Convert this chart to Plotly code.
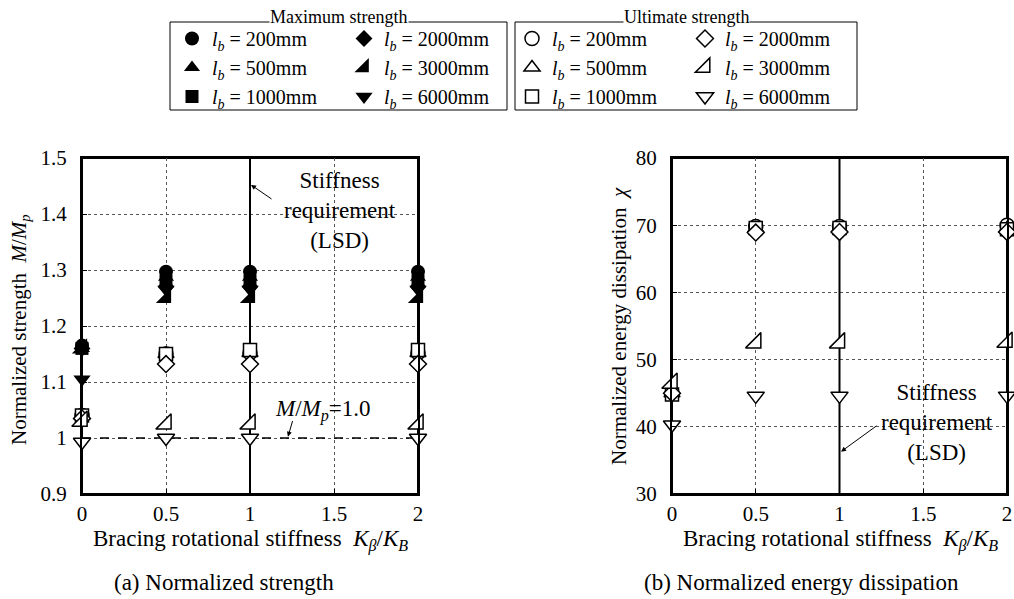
import plotly.graph_objects as go

# ---------------- data ----------------
stiffness = [0, 0.5, 1, 2]          # K_beta / K_B
lengths = [200, 500, 1000, 2000, 3000, 6000]   # l_b (mm)

# Normalized strength M/Mp at maximum strength (filled markers)
max_str_200 = [1.165, 1.297, 1.297, 1.297]
max_str_500 = [1.160, 1.287, 1.287, 1.287]
max_str_1000 = [1.160, 1.280, 1.280, 1.280]
max_str_2000 = [1.160, 1.270, 1.270, 1.270]
max_str_3000 = [1.160, 1.250, 1.250, 1.250]
max_str_6000 = [1.105, 1.265, 1.265, 1.265]

# Normalized strength M/Mp at ultimate strength (open markers)
ult_str_200 = [1.040, 1.150, 1.152, 1.152]
ult_str_500 = [1.040, 1.150, 1.152, 1.152]
ult_str_1000 = [1.040, 1.150, 1.157, 1.157]
ult_str_2000 = [1.035, 1.132, 1.132, 1.132]
ult_str_3000 = [1.030, 1.025, 1.025, 1.025]
ult_str_6000 = [0.993, 1.000, 1.000, 1.000]

# Normalized energy dissipation chi (ultimate strength, open markers)
ult_chi_200 = [45.0, 69.8, 69.8, 70.0]
ult_chi_500 = [45.0, 69.5, 69.5, 69.5]
ult_chi_1000 = [44.8, 69.6, 69.6, 69.4]
ult_chi_2000 = [45.0, 68.9, 69.0, 69.0]
ult_chi_3000 = [46.5, 52.5, 52.5, 52.6]
ult_chi_6000 = [40.3, 44.6, 44.6, 44.6]

x_range = [0, 2]
str_range = [0.9, 1.5]
chi_range = [30, 80]
lsd_requirement = 1.0   # K_beta/K_B stiffness requirement (LSD)
mp_ratio = 1.0          # M/Mp = 1.0 reference

max_str = [max_str_200, max_str_500, max_str_1000, max_str_2000, max_str_3000, max_str_6000]
ult_str = [ult_str_200, ult_str_500, ult_str_1000, ult_str_2000, ult_str_3000, ult_str_6000]
ult_chi = [ult_chi_200, ult_chi_500, ult_chi_1000, ult_chi_2000, ult_chi_3000, ult_chi_6000]

# ---------------- styles ----------------
FONT = "Liberation Serif"
W, H = 1014, 599
symbols = ["circle", "triangle-up", "square", "diamond", "triangle-se", "triangle-down"]
sizes = [14, 14, 13, 13, 17, 15]
leg_max = ["legend", "legend", "legend", "legend2", "legend2", "legend2"]
leg_ult = ["legend3", "legend3", "legend3", "legend4", "legend4", "legend4"]


def px(xp):
    return xp / W


def py(yp):
    return 1 - yp / H


def lab(l):
    return f"<i>l</i><sub><i>b</i></sub> = {l}mm"


fig = go.Figure()

# reference lines (drawn first, under the markers)
fig.add_trace(go.Scatter(x=[lsd_requirement, lsd_requirement], y=str_range, mode="lines",
                         line=dict(color="black", width=2), showlegend=False, hoverinfo="skip",
                         cliponaxis=False, xaxis="x", yaxis="y"))
fig.add_trace(go.Scatter(x=x_range, y=[mp_ratio, mp_ratio], mode="lines",
                         line=dict(color="black", width=1.5, dash="dash"), showlegend=False,
                         hoverinfo="skip", cliponaxis=False, xaxis="x", yaxis="y"))
fig.add_trace(go.Scatter(x=[lsd_requirement, lsd_requirement], y=chi_range, mode="lines",
                         line=dict(color="black", width=2), showlegend=False, hoverinfo="skip",
                         cliponaxis=False, xaxis="x2", yaxis="y2"))

for i, l in enumerate(lengths):
    fig.add_trace(go.Scatter(
        x=stiffness, y=max_str[i], mode="markers", name=lab(l),
        marker=dict(symbol=symbols[i], size=sizes[i], color="black",
                    line=dict(width=0, color="black")),
        cliponaxis=False, xaxis="x", yaxis="y", legend=leg_max[i]))
for i, l in enumerate(lengths):
    fig.add_trace(go.Scatter(
        x=stiffness, y=ult_str[i], mode="markers", name=lab(l),
        marker=dict(symbol=symbols[i], size=sizes[i], color="white",
                    line=dict(width=1.5, color="black")),
        cliponaxis=False, xaxis="x", yaxis="y", legend=leg_ult[i]))
for i, l in enumerate(lengths):
    fig.add_trace(go.Scatter(
        x=stiffness, y=ult_chi[i], mode="markers", name=lab(l), showlegend=False,
        marker=dict(symbol=symbols[i], size=sizes[i], color="white",
                    line=dict(width=1.5, color="black")),
        cliponaxis=False, xaxis="x2", yaxis="y2"))

axis_common = dict(
    showline=True, linecolor="black", linewidth=2, mirror=True,
    ticks="inside", ticklen=5, tickcolor="black", tickwidth=1,
    showgrid=True, gridcolor="#555555", gridwidth=1, griddash="dot",
    zeroline=False, automargin=False,
    tickfont=dict(family=FONT, size=21, color="black"),
)

fig.update_layout(
    width=W, height=H,
    margin=dict(l=0, r=0, t=0, b=0, pad=0),
    paper_bgcolor="white", plot_bgcolor="white",
    font=dict(family=FONT, size=21, color="black"),
    xaxis=dict(domain=[px(82), px(418)], range=x_range, tickvals=[0, 0.5, 1, 1.5, 2],
               anchor="y", ticklabelstandoff=0, **axis_common),
    yaxis=dict(domain=[py(494), py(158)], range=str_range, dtick=0.1, tick0=0.9,
               anchor="x", ticklabelstandoff=9, **axis_common),
    xaxis2=dict(domain=[px(672), px(1007)], range=x_range, tickvals=[0, 0.5, 1, 1.5, 2],
                anchor="y2", ticklabelstandoff=0, **axis_common),
    yaxis2=dict(domain=[py(494), py(158)], range=chi_range, dtick=10,
                anchor="x2", ticklabelstandoff=9, **axis_common),
)

# plot frames
for xr, yr in [("x", "y"), ("x2", "y2")]:
    fig.add_shape(type="rect", xref=f"{xr} domain", yref=f"{yr} domain",
                  x0=0, x1=1, y0=0, y1=1, line=dict(color="black", width=2), layer="below")

# legends
leg_common = dict(bgcolor="rgba(0,0,0,0)", borderwidth=0, orientation="v",
                  font=dict(family=FONT, size=20, color="black"),
                  xanchor="left", yanchor="top", itemsizing="trace", tracegroupgap=0)
leg_top = 19
fig.update_layout(
    legend=dict(x=px(172), y=py(leg_top), **leg_common),
    legend2=dict(x=px(344), y=py(leg_top), **leg_common),
    legend3=dict(x=px(512), y=py(leg_top), **leg_common),
    legend4=dict(x=px(685), y=py(leg_top), **leg_common),
)

# legend boxes
for (x0, x1) in [(170, 507), (515, 857)]:
    fig.add_shape(type="rect", xref="paper", yref="paper",
                  x0=px(x0), x1=px(x1), y0=py(110), y1=py(22),
                  line=dict(color="black", width=1))
for text, xc in [("Maximum strength", 338.5), ("Ultimate strength", 686)]:
    fig.add_annotation(text=text, xref="paper", yref="paper", x=px(xc), y=py(17),
                       showarrow=False, bgcolor="white", font=dict(family=FONT, size=18),
                       xanchor="center", yanchor="middle", borderpad=0)

ann_font = dict(family=FONT, size=23, color="black")
xt_font = dict(family=FONT, size=23, color="black")
yt_font = dict(family=FONT, size=21, color="black")
xt = "Bracing rotational stiffness  <i>K</i><sub><i>β</i></sub>/<i>K</i><sub><i>B</i></sub>"
fig.add_annotation(text=xt, xref="paper", yref="paper", x=px(250), y=py(540), showarrow=False,
                   font=xt_font, xanchor="center", yanchor="middle")
fig.add_annotation(text=xt, xref="paper", yref="paper", x=px(840), y=py(540), showarrow=False,
                   font=xt_font, xanchor="center", yanchor="middle")
fig.add_annotation(text="Normalized strength  <i>M</i>/<i>M</i><sub><i>p</i></sub>",
                   xref="paper", yref="paper", x=px(20), y=py(330), showarrow=False,
                   font=yt_font, textangle=-90, xanchor="center", yanchor="middle")
fig.add_annotation(text="Normalized energy dissipation  <i>χ</i>",
                   xref="paper", yref="paper", x=px(619), y=py(326), showarrow=False,
                   font=yt_font, textangle=-90, xanchor="center", yanchor="middle")
fig.add_annotation(text="(a) Normalized strength", xref="paper", yref="paper",
                   x=px(224), y=py(582), showarrow=False, font=ann_font,
                   xanchor="center", yanchor="middle")
fig.add_annotation(text="(b) Normalized energy dissipation", xref="paper", yref="paper",
                   x=px(801), y=py(582), showarrow=False, font=ann_font,
                   xanchor="center", yanchor="middle")

fig.add_annotation(text="Stiffness<br>requirement<br>(LSD)", xref="x", yref="y",
                   x=1.536, y=1.406, showarrow=False, font=ann_font,
                   xanchor="center", yanchor="middle")
fig.add_annotation(text="", xref="x", yref="y", axref="x", ayref="y",
                   x=1.006, y=1.452, ax=1.137, ay=1.425,
                   showarrow=True, arrowhead=2, arrowsize=1, arrowwidth=1, arrowcolor="black")
fig.add_annotation(text="<i>M</i>/<i>M</i><sub><i>p</i></sub>=1.0", xref="x", yref="y",
                   x=1.435, y=1.05, showarrow=False, font=ann_font,
                   xanchor="center", yanchor="middle")
fig.add_annotation(text="", xref="x", yref="y", axref="x", ayref="y",
                   x=1.226, y=1.0023, ax=1.256, ay=1.033,
                   showarrow=True, arrowhead=2, arrowsize=1, arrowwidth=1, arrowcolor="black")
fig.add_annotation(text="Stiffness<br>requirement<br>(LSD)", xref="x2", yref="y2",
                   x=1.582, y=40.6, showarrow=False, font=ann_font,
                   xanchor="center", yanchor="middle")
fig.add_annotation(text="", xref="x2", yref="y2", axref="x2", ayref="y2",
                   x=1.009, y=36.3, ax=1.23, ay=40.3,
                   showarrow=True, arrowhead=2, arrowsize=1, arrowwidth=1, arrowcolor="black")

fig.write_html("out.html", config={"displayModeBar": False},
               post_script="document.body.style.margin='0px';document.body.style.overflow='hidden';")
